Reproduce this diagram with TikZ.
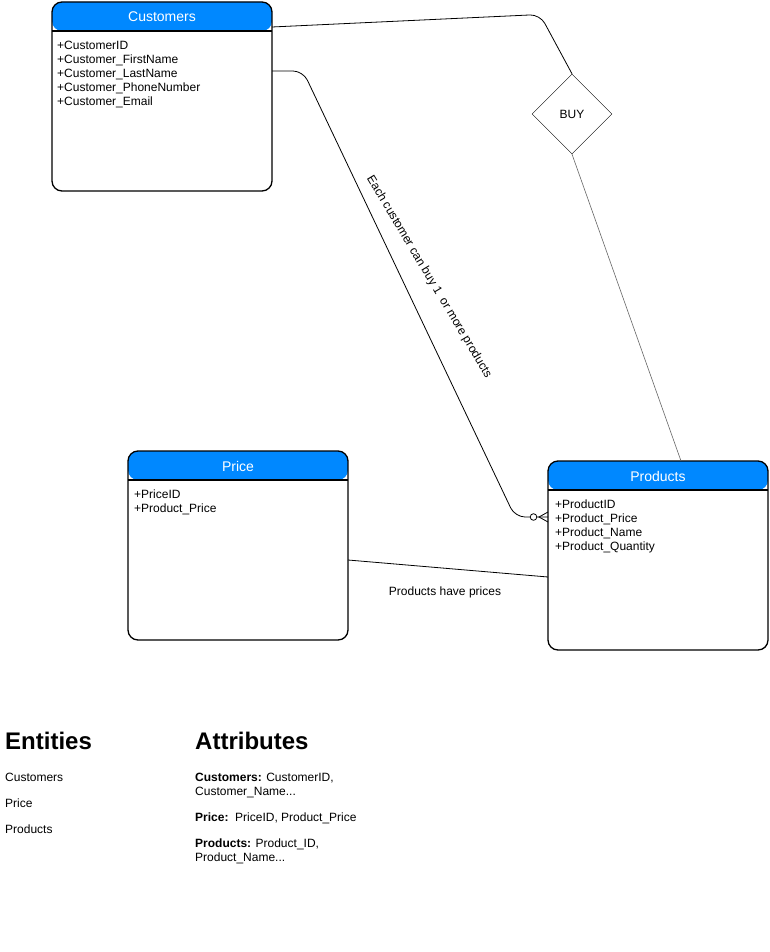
\documentclass[tikz,border=0pt]{standalone}
\usepackage{fontspec}
\setmainfont{Liberation Sans}
\usepackage{xcolor}
\usetikzlibrary{calc,positioning,shapes.geometric}
\definecolor{hdr}{HTML}{0088FF}
\definecolor{ink}{HTML}{000000}
\definecolor{soft}{HTML}{666666}
\tikzset{
  ent/.style={draw=ink, fill=white, line width=1.3pt, rounded corners=10pt, minimum width=220pt,
    minimum height=189pt, inner sep=0pt, outer sep=0pt,
    path picture={
      \fill[hdr] (path picture bounding box.north west) rectangle ([yshift=-29pt]path picture bounding box.north east);
      \draw[ink, line width=1.3pt] ([yshift=-29pt]path picture bounding box.north west) -- ([yshift=-29pt]path picture bounding box.north east);
    }},
  head/.style={text=white, inner sep=0pt, font=\fontsize{14}{16}\selectfont},
  attr/.style={anchor=north west, inner sep=0pt, align=left, font=\fontsize{12}{14}\selectfont},
  rel/.style={draw=ink, diamond, minimum width=80pt, minimum height=80pt, inner sep=0pt, font=\fontsize{12}{14}\selectfont},
  link/.style={draw=ink, line width=0.8pt, rounded corners=10pt},
  linkg/.style={draw=soft, line width=0.6pt},
  lab/.style={inner sep=0pt, font=\fontsize{12}{14}\selectfont},
  title/.style={anchor=west, inner sep=0pt, font=\bfseries\fontsize{24}{28}\selectfont},
}

\begin{document}
\begin{tikzpicture}[x=1pt,y=-1pt]
\useasboundingbox[fill=white] (0,0) rectangle (770,952);

% entities
\node[ent] (cust) at (162,96.5) {};
\node[ent] (price) at (238,545.5) {};
\node[ent] (prod) at (658,555.5) {};
\node[head] (custh) at ([yshift=-15pt]cust.north) {Customers};
\node[head] (priceh) at ([yshift=-15pt]price.north) {Price};
\node[head] (prodh) at ([yshift=-15pt]prod.north) {Products};
\node[attr] (custa) at ([xshift=5pt,yshift=-38.5pt]cust.north west)
  {+CustomerID\\+Customer\_FirstName\\+Customer\_LastName\\+Customer\_PhoneNumber\\+Customer\_Email};
\node[attr] (pricea) at ([xshift=6pt,yshift=-38.5pt]price.north west)
  {+PriceID\\+Product\_Price};
\node[attr] (proda) at ([xshift=7pt,yshift=-38.5pt]prod.north west)
  {+ProductID\\+Product\_Price\\+Product\_Name\\+Product\_Quantity};

% relationship
\node[rel] (buy) at (572,114) {BUY};

% connectors
\coordinate (k1) at (540,14.5);
\coordinate (k2) at (303,71);
\coordinate (k3) at (515,517);
\coordinate (pend) at ([yshift=-56pt]prod.north west);
\draw[link] ([yshift=-25pt]cust.north east) -- (k1) -- (buy.north);
\draw[linkg] (buy.south) -- ([xshift=23pt]prod.north);
\draw[link] ([yshift=-69pt]cust.north east) -- (k2) -- (k3) -- (pend);
\draw[ink, line width=0.8pt] ([yshift=5pt]pend) -- ([xshift=-9pt]pend) -- ([yshift=-5pt]pend);
\draw[ink, line width=0.8pt, fill=white] ([xshift=-14.5pt]pend) circle (3.3pt);
\draw[link] ([yshift=-14.5pt]price.east) -- ([yshift=-21.5pt]prod.west);
\node[lab, rotate=-59.2] (buylab) at (429,277) {Each customer can buy 1\ \ or more products};
\node[lab] (haslab) at (445,592) {Products have prices};

% legend
\node[title] (enth) at (5,741) {Entities};
\node[title] (atth) at (195,741) {Attributes};
\node[lab, anchor=west] (e1) at (5,777) {Customers};
\node[lab, anchor=west] (e2) at (5,803) {Price};
\node[lab, anchor=west] (e3) at (5,829) {Products};
\node[attr] (a1) at (195,772.5) {\textbf{Customers:} CustomerID,\\Customer\_Name...};
\node[attr] (a2) at (195,812.5) {\textbf{Price:}\ \ PriceID, Product\_Price};
\node[attr] (a3) at (195,838.5) {\textbf{Products:} Product\_ID,\\Product\_Name...};
\end{tikzpicture}
\end{document}
